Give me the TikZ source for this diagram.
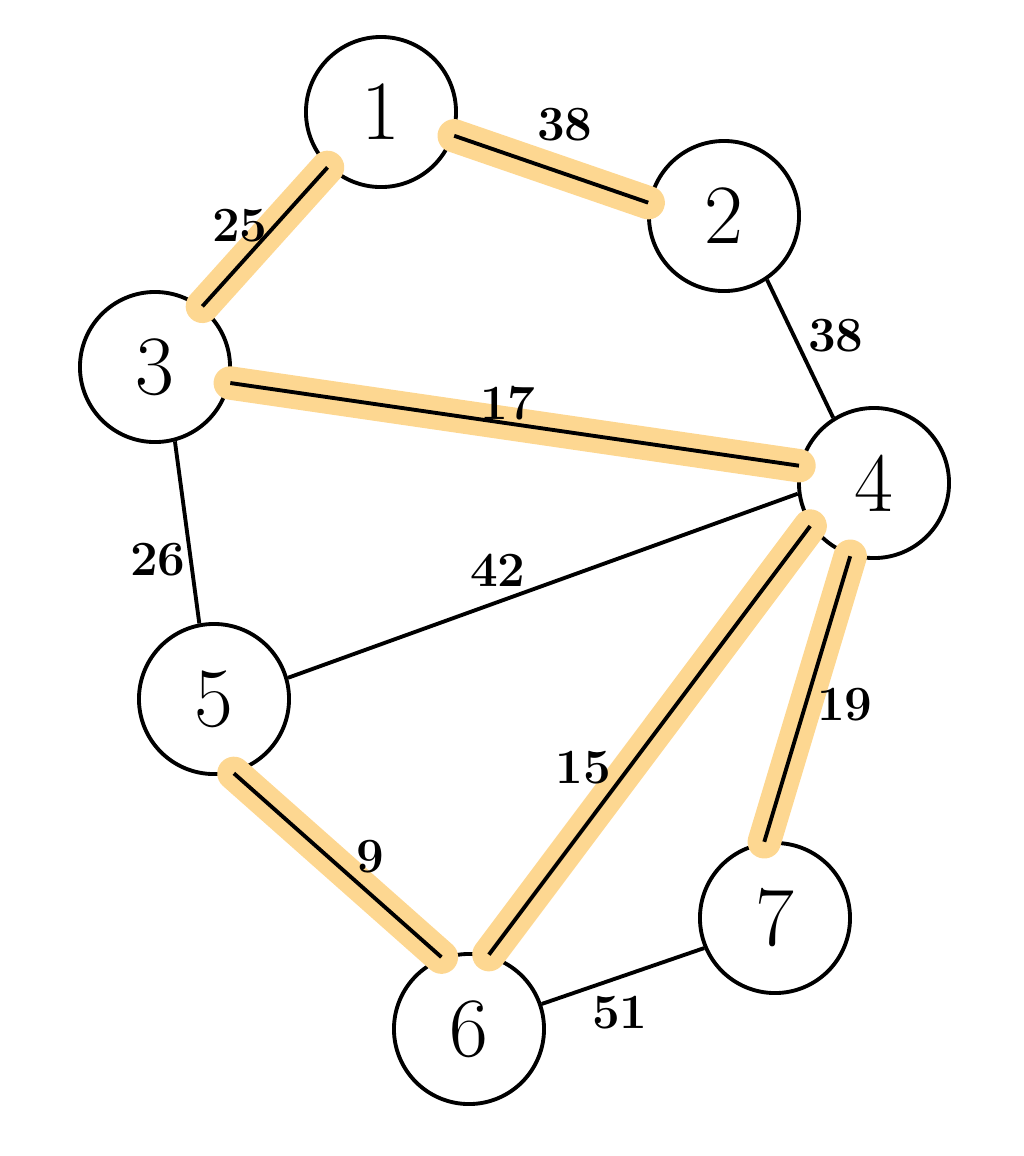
\documentclass[tikz,border=0pt]{standalone}
\begin{document}
\begin{tikzpicture}[x=0.01cm,y=-0.01cm,
  vert/.style={circle,draw=black,line width=1.1pt,minimum size=1.5cm,inner sep=0pt,font=\fontsize{24}{24}\selectfont},
  wedge/.style={line width=1.1pt,draw=black},
  glow/.style={draw=hl,line cap=round,line width=9.5pt},
  wlab/.style={font=\fontsize{14}{14}\selectfont\bfseries,inner sep=1pt}]
\definecolor{hl}{HTML}{FDD791}
\useasboundingbox (0,0) rectangle (1024,1156);
\node[vert] (n1) at (381,112) {1};
\node[vert] (n2) at (724,216) {2};
\node[vert] (n3) at (155,367) {3};
\node[vert] (n4) at (874,483) {4};
\node[vert] (n5) at (214,699) {5};
\node[vert] (n6) at (469,1029) {6};
\node[vert] (n7) at (775,918) {7};
% highlights
\path[glow] (n1.-18) -- (n2.170);
\path[glow] (n1.-134) -- (n3.52);
\path[glow] (n3.-12) -- (n4.167);
\path[glow] (n4.-146) -- (n6.75);
\path[glow] (n4.-108) -- (n7.98);
\path[glow] (n5.-75) -- (n6.111);
% edges
\path[wedge] (n1.-18) -- (n2.170);
\path[wedge] (n1.-134) -- (n3.52);
\path[wedge] (n2.-56) -- (n4.122);
\path[wedge] (n3.-12) -- (n4.167);
\path[wedge] (n3.-75) -- (n5.101);
\path[wedge] (n5.16) -- (n4.-172);
\path[wedge] (n4.-146) -- (n6.75);
\path[wedge] (n4.-108) -- (n7.98);
\path[wedge] (n5.-75) -- (n6.111);
\path[wedge] (n6.19) -- (n7.-157);
% labels
\node[wlab] (l12) at (565,125) {38};
\node[wlab] (l24) at (836,336) {38};
\node[wlab] (l13) at (240,226) {25};
\node[wlab] (l34) at (508,403) {17};
\node[wlab] (l35) at (158,560) {26};
\node[wlab] (l45) at (498,570) {42};
\node[wlab] (l46) at (583,768) {15};
\node[wlab] (l47) at (845,705) {19};
\node[wlab] (l56) at (370,857) {9};
\node[wlab] (l67) at (620,1013) {51};
\end{tikzpicture}
\end{document}
